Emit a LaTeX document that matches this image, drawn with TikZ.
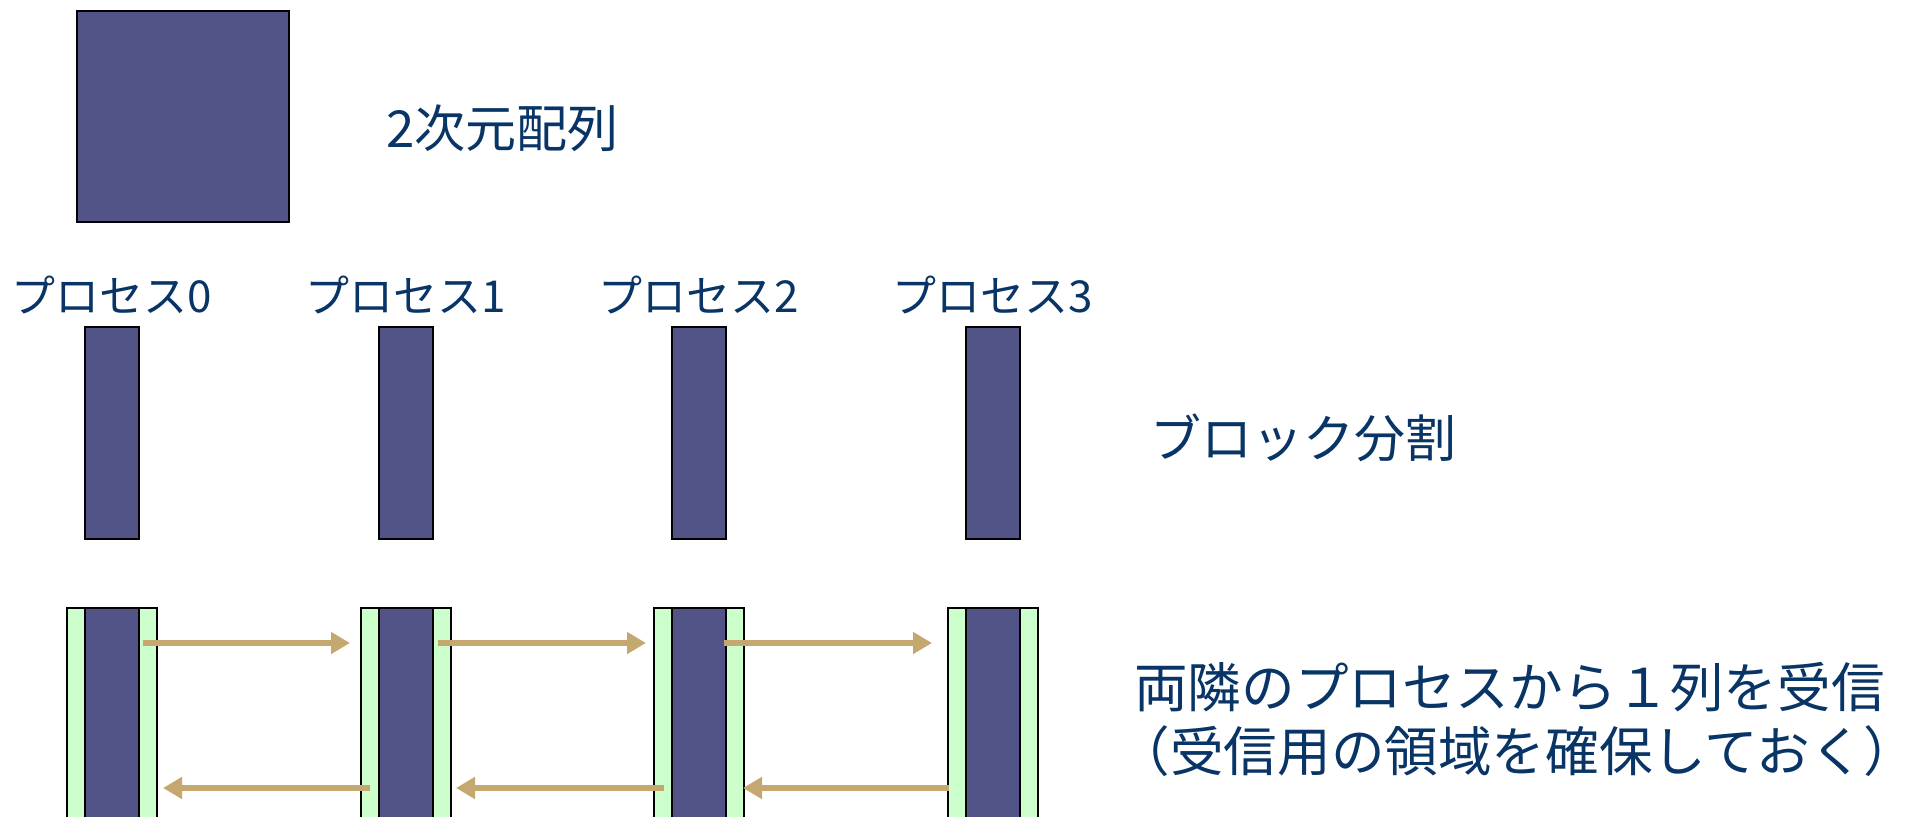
\documentclass[tikz,border=0pt]{standalone}
\usepackage{fontspec}
\setmainfont{Noto Sans CJK JP}
\usetikzlibrary{arrows.meta,calc}
\definecolor{barblue}{RGB}{82,84,136}
\definecolor{stripgreen}{RGB}{204,255,204}
\definecolor{arrowtan}{RGB}{196,168,112}
\definecolor{txtblue}{RGB}{8,52,102}
\begin{document}
\begin{tikzpicture}[x=0.5pt,y=-0.5pt,
  blk/.style={draw=black, line width=1pt, fill=barblue, inner sep=0pt, outer sep=0pt},
  gbox/.style={draw=black, line width=1pt, fill=stripgreen, inner sep=0pt, outer sep=0pt},
  lbl/.style={text=txtblue, inner sep=0pt, font=\fontsize{25.5pt}{30pt}\selectfont},
  lblwide/.style={text=txtblue, inner sep=0pt, font=\fontsize{26.8pt}{32pt}\selectfont},
  plbl/.style={text=txtblue, inner sep=0pt, font=\fontsize{22pt}{26pt}\selectfont},
  flow/.style={draw=arrowtan, line width=2.8pt, -{Triangle[length=9.5pt,width=10.5pt]}}]
\clip (0,0) rectangle (1914,817);
\fill[white] (0,0) rectangle (1914,817);

% 2D array
\node[blk, minimum width=106pt, minimum height=105.5pt] (arr) at (183,116.5) {};
\node[lbl, anchor=west] (tarr) at (386,128) {2次元配列};

% block decomposition
\foreach \i/\cx in {0/112,1/405.5,2/699,3/992.5}{
  \node[plbl] (p\i) at (\cx,295) {プロセス\i};
  \node[blk, minimum width=27pt, minimum height=106pt] (b\i) at (\cx,433) {};
  \node[gbox, minimum width=45pt, minimum height=116pt] (g\i) at (\cx,724) {};
  \node[blk, minimum width=27pt, minimum height=116pt] (c\i) at (\cx,724) {};
}
\node[lbl, anchor=west] (tblk) at (1150,438) {ブロック分割};

% halo exchange arrows
\coordinate (u0s) at (143,643);  \coordinate (u0e) at (350,643);
\coordinate (u1s) at (438,643);  \coordinate (u1e) at (646,643);
\coordinate (u2s) at (724,643);  \coordinate (u2e) at (932,643);
\coordinate (l0s) at (370,788);  \coordinate (l0e) at (163,788);
\coordinate (l1s) at (664,788);  \coordinate (l1e) at (456,788);
\coordinate (l2s) at (949,788);  \coordinate (l2e) at (743,788);
\foreach \k in {u0,u1,u2,l0,l1,l2}{
  \draw[flow] (\k s) -- (\k e);
}

\node[lblwide] (tr1) at (1509.5,687.5) {両隣のプロセスから１列を受信};
\node[lblwide] (tr2) at (1517,751) {（受信用の領域を確保しておく）};
\end{tikzpicture}
\end{document}
